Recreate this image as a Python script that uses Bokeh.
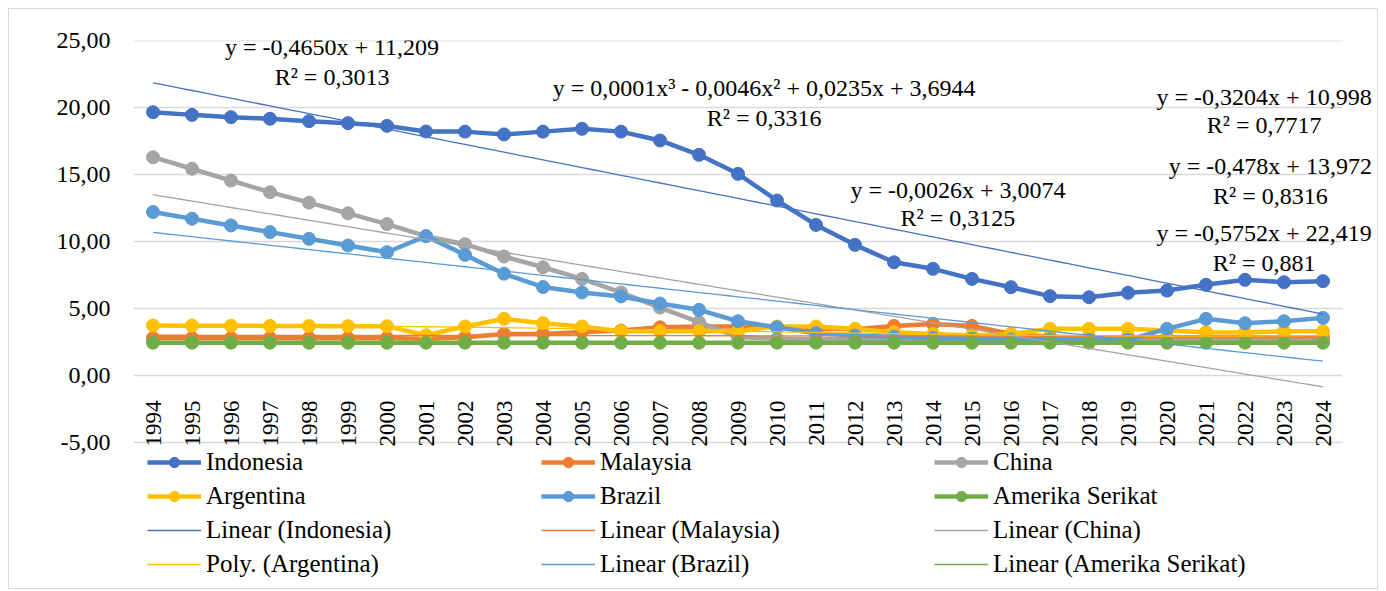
import numpy as np
from bokeh.plotting import figure
from bokeh.models import (Range1d, FixedTicker, CustomJSTickFormatter, Legend, LegendItem, Label)
from bokeh.core.properties import value
from bokeh.embed import file_html
from bokeh.resources import INLINE

years = list(range(1994, 2025))

indonesia = [19.65, 19.45, 19.28, 19.16, 18.98, 18.83, 18.63, 18.21, 18.2, 17.99, 18.2, 18.41, 18.2, 17.54,
             16.47, 15.05, 13.06, 11.24, 9.75, 8.45, 7.96, 7.21, 6.59, 5.92, 5.84, 6.17, 6.34, 6.77, 7.14, 6.96, 7.04]
malaysia = [2.8, 2.8, 2.8, 2.8, 2.8, 2.8, 2.8, 2.75, 2.85, 3.1, 3.1, 3.25, 3.35, 3.6, 3.65, 3.65, 3.6, 3.5,
            3.45, 3.7, 3.85, 3.7, 3.1, 2.9, 2.85, 2.85, 2.85, 2.85, 2.85, 2.85, 2.85]
china = [16.29, 15.43, 14.55, 13.68, 12.9, 12.1, 11.3, 10.4, 9.8, 8.88, 8.08, 7.21, 6.2, 5.07, 3.98, 2.86,
         2.76, 2.7, 2.7, 2.7, 2.7, 2.65, 2.65, 2.6, 2.6, 2.6, 2.6, 2.6, 2.6, 2.6, 2.6]
argentina = [3.73, 3.72, 3.71, 3.7, 3.69, 3.68, 3.67, 3.0, 3.66, 4.23, 3.9, 3.66, 3.3, 3.3, 3.3, 3.3, 3.66,
             3.66, 3.48, 3.23, 3.1, 2.98, 3.1, 3.48, 3.48, 3.48, 3.35, 3.23, 3.2, 3.3, 3.3]
brazil = [12.2, 11.7, 11.2, 10.7, 10.2, 9.7, 9.2, 10.4, 9.0, 7.6, 6.6, 6.2, 5.9, 5.37, 4.9, 4.05, 3.6, 3.16,
          2.98, 2.9, 2.8, 2.75, 2.7, 2.7, 2.65, 2.66, 3.48, 4.23, 3.9, 4.05, 4.3]
amerika = [2.45, 2.45, 2.45, 2.45, 2.45, 2.45, 2.45, 2.45, 2.45, 2.45, 2.45, 2.45, 2.45, 2.45, 2.45, 2.45,
           2.45, 2.45, 2.45, 2.45, 2.45, 2.45, 2.45, 2.45, 2.45, 2.45, 2.45, 2.45, 2.45, 2.45, 2.45]

# trendline coefficients (x = 1 for 1994), highest power first
trend_indonesia = [-0.5752, 22.419]
trend_malaysia = [-0.0026, 3.0074]
trend_china = [-0.478, 13.972]
trend_argentina = [0.0001, -0.0046, 0.0235, 3.6944]
trend_brazil = [-0.3204, 10.998]
trend_amerika = [0.0, 2.45]

series_names = ["Indonesia", "Malaysia", "China", "Argentina", "Brazil", "Amerika Serikat"]
trend_names = ["Linear (Indonesia)", "Linear (Malaysia)", "Linear (China)", "Poly. (Argentina)",
               "Linear (Brazil)", "Linear (Amerika Serikat)"]
colors = ["#4472C4", "#ED7D31", "#A5A5A5", "#FFC000", "#5B9BD5", "#70AD47"]

eq_texts = ["y = -0,4650x + 11,209", "R² = 0,3013",
            "y = 0,0001x³ - 0,0046x² + 0,0235x + 3,6944", "R² = 0,3316",
            "y = -0,0026x + 3,0074", "R² = 0,3125",
            "y = -0,3204x + 10,998", "R² = 0,7717",
            "y = -0,478x + 13,972", "R² = 0,8316",
            "y = -0,5752x + 22,419", "R² = 0,881"]

y_ticks = [-5, 0, 5, 10, 15, 20, 25]

FONT = "Liberation Serif"
PX_X = 39.0    # pixels per year
PX_Y = 13.4    # pixels per unit
H, TOP, BOT = 581, 31, 5
W, LEFT, RIGHT = 1370, 124, 0
frame_w = W - LEFT - RIGHT
frame_h = H - TOP - BOT

x0 = years[0] - 0.5
p = figure(width=W, height=H, output_backend="svg", toolbar_location=None,
           x_range=Range1d(x0, x0 + frame_w / PX_X),
           y_range=Range1d(25 - frame_h / PX_Y, 25),
           x_axis_location=None, min_border_left=LEFT, min_border_right=RIGHT,
           min_border_top=TOP, min_border_bottom=BOT)
p.styles = {"border": "1px solid #D9D9D9", "margin": "8px 0 0 8px"}
p.outline_line_color = None
p.background_fill_color = "white"
p.border_fill_color = "white"

p.xgrid.visible = False
p.ygrid.visible = False
# horizontal gridlines spanning the category area only
p.segment(x0=[years[0] - 0.5] * len(y_ticks), x1=[years[-1] + 0.5] * len(y_ticks),
          y0=y_ticks, y1=y_ticks, line_color="#D9D9D9", line_width=1.5)

ax = p.yaxis[0]
ax.ticker = FixedTicker(ticks=y_ticks)
ax.formatter = CustomJSTickFormatter(code="return tick.toFixed(2).replace('.', ',');")
ax.axis_line_color = None
ax.major_tick_line_color = None
ax.minor_tick_line_color = None
ax.major_tick_out = 0
ax.major_label_standoff = 23
ax.major_label_text_font = FONT
ax.major_label_text_font_size = "24px"
ax.major_label_text_color = "black"

data = [indonesia, malaysia, china, argentina, brazil, amerika]
trends = [trend_indonesia, trend_malaysia, trend_china, trend_argentina, trend_brazil, trend_amerika]

series_items = []
for name, ys, c in zip(series_names, data, colors):
    lr = p.line(years, ys, line_color=c, line_width=4.5)
    sr = p.scatter(years, ys, size=13, fill_color=c, line_color=c)
    series_items.append(LegendItem(label=name, renderers=[lr, sr]))

trend_items = []
xfine = np.linspace(1, len(years), 121)
for name, coef, c in zip(trend_names, trends, colors):
    tr = p.line(xfine + years[0] - 1, np.polyval(coef, xfine), line_color=c, line_width=1.3)
    trend_items.append(LegendItem(label=name, renderers=[tr]))

# year labels under the zero line
p.text(x=years, y=[0] * len(years), text=[str(y) for y in years], angle=np.pi / 2,
       text_align="right", text_baseline="middle", y_offset=25,
       text_font=value(FONT), text_font_size="23px", text_color="black")

# trendline equations
eq_pos = [(1998.59, 24.48), (1998.59, 22.24), (2009.67, 21.42), (2009.67, 19.25),
          (2014.64, 13.81), (2014.64, 11.72), (2022.49, 20.75), (2022.49, 18.66),
          (2022.65, 15.67), (2022.65, 13.43), (2022.49, 10.60), (2022.49, 8.43)]
for t, (x, y) in zip(eq_texts, eq_pos):
    p.add_layout(Label(x=x, y=y, text=t, text_align="center", text_baseline="middle",
                       text_font=FONT, text_font_size="24px", text_color="black"))

all_items = series_items + trend_items
cols = [[all_items[r * 3 + c] for r in range(4)] for c in range(3)]
for c, xloc in zip(range(3), [14, 408, 801]):
    lg = Legend(items=cols[c], location=(xloc, 7), orientation="vertical",
                background_fill_alpha=0, border_line_color=None, padding=0, margin=0,
                spacing=6, glyph_width=54, glyph_height=26, label_height=26, label_standoff=5,
                label_text_font=FONT, label_text_font_size="25px", label_text_color="black")
    p.add_layout(lg)

open("out.html", "w").write(file_html(p, INLINE))
